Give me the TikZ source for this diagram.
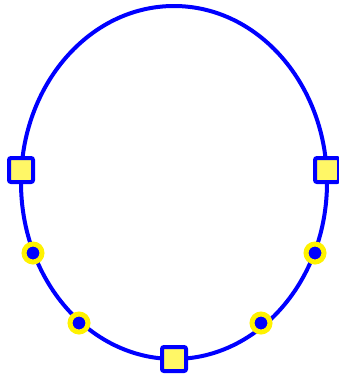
\documentclass[tikz,border=0pt]{standalone}
\begin{document}
\begin{tikzpicture}[x=1pt,y=-1pt,
  sqnode/.style={draw=blue, fill=yellow!60, line width=4pt, minimum size=24pt, inner sep=0pt, rounded corners=2pt},
  dotnode/.style={circle, draw=yellow, fill=blue, line width=5pt, minimum size=18pt, inner sep=0pt}]
\useasboundingbox (0,0) rectangle (338,375);
\draw[blue, line width=4pt] (174,182.5) ellipse [x radius=153, y radius=176.5];
\node[sqnode] (l) at (21,170) {};
\node[sqnode] (r) at (327,170) {};
\node[sqnode] (b) at (174,359) {};
\node[dotnode] (d1) at (33,253) {};
\node[dotnode] (d2) at (315,253) {};
\node[dotnode] (d3) at (79,323) {};
\node[dotnode] (d4) at (261,323) {};
\end{tikzpicture}
\end{document}
